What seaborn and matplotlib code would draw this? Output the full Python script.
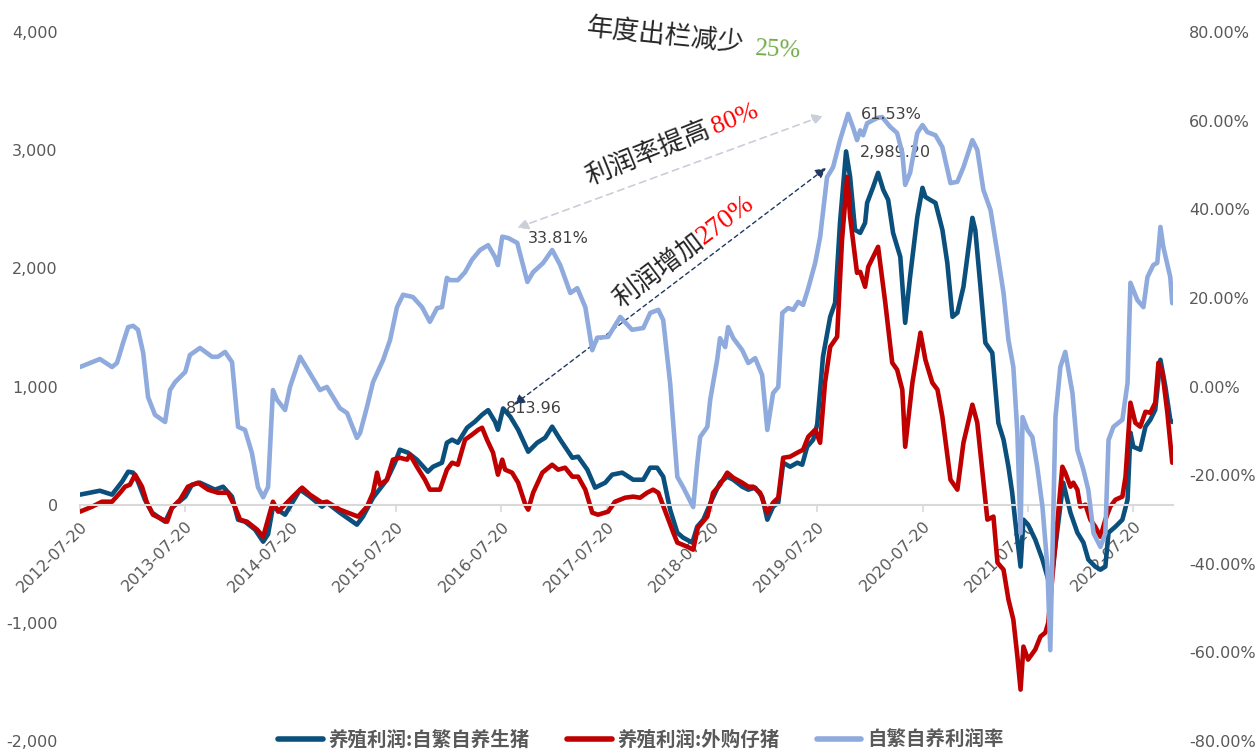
import matplotlib
matplotlib.use("Agg")
import pandas as pd
import matplotlib.pyplot as plt
from matplotlib.ticker import FuncFormatter
from matplotlib.lines import Line2D
from matplotlib.font_manager import FontProperties
import seaborn as sns

sns.set_theme(style="white")
plt.rcParams['font.family'] = ['DejaVu Sans', 'Noto Sans CJK SC']

# ---- data ----
# 养殖利润:自繁自养生猪 (元/头, left axis)
own_dates = [
    "2012-07-20", "2012-09-27", "2012-11-08", "2012-12-13", "2013-01-03", "2013-01-20", "2013-02-06",
    "2013-03-02", "2013-03-27", "2013-05-11", "2013-06-04", "2013-07-20", "2013-08-12", "2013-09-09",
    "2013-10-31", "2013-11-28", "2013-12-29", "2014-01-19", "2014-02-12", "2014-03-19", "2014-04-16",
    "2014-05-03", "2014-05-20", "2014-07-01", "2014-08-22", "2014-09-25", "2014-11-06", "2014-11-23",
    "2015-01-07", "2015-03-07", "2015-03-28", "2015-05-02", "2015-06-19", "2015-07-17", "2015-08-03",
    "2015-08-31", "2015-10-01", "2015-11-08", "2015-11-26", "2015-12-27", "2016-01-13", "2016-01-31",
    "2016-02-20", "2016-03-23", "2016-04-19", "2016-05-14", "2016-06-04", "2016-06-28", "2016-07-08",
    "2016-07-26", "2016-08-20", "2016-09-16", "2016-10-21", "2016-11-21", "2016-12-19", "2017-01-12",
    "2017-02-09", "2017-03-23", "2017-04-12", "2017-05-14", "2017-06-10", "2017-07-15", "2017-08-08",
    "2017-09-12", "2017-10-20", "2017-11-24", "2017-12-18", "2018-01-11", "2018-02-01", "2018-02-25",
    "2018-03-22", "2018-04-11", "2018-05-13", "2018-05-30", "2018-06-20", "2018-07-20", "2018-08-17",
    "2018-09-11", "2018-10-02", "2018-11-02", "2018-11-23", "2018-12-17", "2019-01-10", "2019-01-28",
    "2019-02-17", "2019-03-07", "2019-03-24", "2019-04-17", "2019-05-12", "2019-05-29", "2019-06-15",
    "2019-07-06", "2019-07-20", "2019-08-09", "2019-09-03", "2019-09-20", "2019-10-07", "2019-10-28",
    "2019-11-11", "2019-11-28", "2019-12-16", "2020-01-02", "2020-01-09", "2020-01-30", "2020-02-16",
    "2020-03-05", "2020-03-22", "2020-04-08", "2020-05-03", "2020-05-20", "2020-06-06", "2020-07-01",
    "2020-07-19", "2020-07-29", "2020-08-15", "2020-09-02", "2020-09-26", "2020-10-13", "2020-10-31",
    "2020-11-17", "2020-12-08", "2021-01-08", "2021-01-18", "2021-02-05", "2021-02-22", "2021-03-18",
    "2021-04-08", "2021-04-26", "2021-05-13", "2021-05-26", "2021-06-05", "2021-06-24", "2021-07-04",
    "2021-07-20", "2021-08-14", "2021-09-08", "2021-09-25", "2021-10-05", "2021-11-19", "2021-12-14",
    "2022-01-07", "2022-01-28", "2022-02-14", "2022-03-10", "2022-03-28", "2022-04-14", "2022-04-25",
    "2022-05-19", "2022-06-12", "2022-06-30", "2022-07-10", "2022-07-20", "2022-08-13", "2022-08-31",
    "2022-09-17", "2022-10-04", "2022-10-22", "2022-11-08", "2022-11-25", "2022-12-02",
]
own_profit = [
    85, 118, 85, 195, 279, 271, 195,
    42, -68, -144, -25, 68, 169, 186,
    127, 152, 68, -127, -144, -211, -313,
    -250, -17, -85, 127, 68, -17, 17,
    -68, -169, -101, 59, 211, 355, 465,
    440, 381, 279, 321, 355, 524, 550,
    524, 651, 702, 761, 800, 702, 634,
    813.96, 744, 634, 448, 524, 567, 660,
    550, 397, 406, 296, 144, 186, 254,
    271, 211, 211, 313, 313, 237, -42,
    -237, -279, -321, -186, -127, 42, 186,
    237, 211, 152, 127, 144, 68, -127,
    -17, 17, 355, 321, 355, 338, 490,
    550, 680, 1252, 1590, 1708, 2385, 2989.2,
    2774, 2326, 2300, 2385, 2554, 2689, 2808,
    2664, 2579, 2300, 2097, 1539, 1928, 2436,
    2681, 2605, 2579, 2554, 2326, 2047, 1590,
    1624, 1844, 2427, 2326, 1844, 1370, 1285,
    693, 550, 321, 101, -127, -524, -127,
    -169, -296, -465, -609, -700, 186, -68,
    -237, -321, -465, -524, -550, -524, -237,
    -186, -127, 42, 609, 490, 465, 660,
    719, 803, 1226, 998, 719, 700,
]

# 养殖利润:外购仔猪 (元/头, left axis)
buy_dates = [
    "2012-07-20", "2012-08-31", "2012-10-04", "2012-11-08", "2012-12-06", "2012-12-23", "2013-01-09",
    "2013-01-27", "2013-02-20", "2013-03-09", "2013-03-30", "2013-05-18", "2013-06-04", "2013-07-02",
    "2013-07-29", "2013-09-02", "2013-10-07", "2013-11-10", "2013-12-15", "2014-01-08", "2014-01-26",
    "2014-02-19", "2014-03-26", "2014-04-16", "2014-05-20", "2014-06-07", "2014-07-28", "2014-08-29",
    "2014-09-25", "2014-11-06", "2014-11-23", "2015-01-07", "2015-03-11", "2015-04-11", "2015-05-02",
    "2015-05-16", "2015-05-26", "2015-06-19", "2015-07-10", "2015-08-03", "2015-08-28", "2015-09-07",
    "2015-10-01", "2015-10-29", "2015-11-15", "2015-12-20", "2016-01-13", "2016-01-31", "2016-02-20",
    "2016-03-16", "2016-04-09", "2016-05-01", "2016-05-14", "2016-05-31", "2016-06-21", "2016-07-08",
    "2016-07-23", "2016-08-02", "2016-08-26", "2016-09-16", "2016-10-11", "2016-10-21", "2016-11-07",
    "2016-12-09", "2017-01-12", "2017-02-02", "2017-02-26", "2017-03-23", "2017-04-12", "2017-05-07",
    "2017-05-31", "2017-06-20", "2017-07-25", "2017-08-18", "2017-09-22", "2017-10-20", "2017-11-13",
    "2017-12-07", "2017-12-28", "2018-01-15", "2018-02-15", "2018-03-08", "2018-03-22", "2018-04-25",
    "2018-05-16", "2018-06-01", "2018-07-04", "2018-07-24", "2018-08-17", "2018-09-11", "2018-10-02",
    "2018-11-02", "2018-11-23", "2018-12-10", "2019-01-03", "2019-01-28", "2019-02-17", "2019-03-07",
    "2019-03-24", "2019-04-17", "2019-05-12", "2019-06-01", "2019-06-19", "2019-07-13", "2019-07-30",
    "2019-08-16", "2019-09-03", "2019-09-27", "2019-10-14", "2019-11-01", "2019-11-11", "2019-12-05",
    "2019-12-16", "2020-01-02", "2020-01-13", "2020-02-16", "2020-03-12", "2020-04-05", "2020-04-22",
    "2020-05-10", "2020-05-20", "2020-06-14", "2020-07-12", "2020-07-29", "2020-08-22", "2020-09-09",
    "2020-09-26", "2020-10-24", "2020-11-17", "2020-12-08", "2021-01-08", "2021-01-25", "2021-02-12",
    "2021-03-01", "2021-03-22", "2021-04-05", "2021-04-26", "2021-05-13", "2021-05-30", "2021-06-13",
    "2021-06-24", "2021-07-04", "2021-07-20", "2021-08-14", "2021-09-01", "2021-09-18", "2021-09-28",
    "2021-11-16", "2021-11-26", "2021-12-14", "2021-12-24", "2022-01-07", "2022-01-17", "2022-02-04",
    "2022-02-21", "2022-03-10", "2022-03-28", "2022-04-14", "2022-05-01", "2022-05-19", "2022-06-12",
    "2022-06-23", "2022-07-10", "2022-07-27", "2022-08-13", "2022-08-31", "2022-09-17", "2022-10-04",
    "2022-10-15", "2022-10-29", "2022-11-15", "2022-12-02",
]
buy_profit = [
    -59, -17, 25, 25, 101, 152, 169,
    254, 152, 17, -85, -144, -25, 42,
    152, 186, 127, 101, 101, -17, -127,
    -144, -211, -271, 25, -59, 68, 144,
    85, 17, 25, -42, -101, -17, 101,
    271, 169, 211, 381, 397, 381, 423,
    321, 211, 127, 127, 296, 355, 338,
    550, 592, 634, 651, 550, 440, 254,
    381, 296, 271, 186, 0, -42, 101,
    271, 338, 296, 313, 237, 237, 127,
    -68, -85, -59, 25, 59, 68, 59,
    101, 127, 101, -101, -237, -321, -355,
    -381, -195, -101, 101, 169, 271, 228,
    186, 152, 152, 101, -68, 17, 59,
    397, 406, 440, 465, 575, 634, 524,
    1032, 1336, 1421, 2241, 2774, 2436, 1962,
    1970, 1844, 2013, 2182, 1708, 1201, 1142,
    973, 490, 1032, 1455, 1226, 1032, 973,
    744, 211, 127, 524, 846, 693, 271,
    -127, -101, -491, -550, -803, -973, -1285,
    -1565, -1201, -1311, -1226, -1116, -1082, -1000,
    321, 271, 152, 186, 127, -17, 0,
    -127, -186, -271, -127, -17, 42, 68,
    237, 863, 693, 660, 786, 778, 863,
    1201, 1116, 778, 355,
]

# 自繁自养利润率 (%, right axis)
rate_dates = [
    "2012-07-20", "2012-09-27", "2012-11-08", "2012-11-25", "2012-12-06", "2012-12-16", "2013-01-03",
    "2013-01-20", "2013-02-06", "2013-02-24", "2013-03-13", "2013-04-06", "2013-05-11", "2013-05-28",
    "2013-06-15", "2013-07-20", "2013-08-05", "2013-09-09", "2013-10-21", "2013-11-10", "2013-12-05",
    "2013-12-29", "2014-01-19", "2014-02-12", "2014-03-08", "2014-03-29", "2014-04-16", "2014-04-23",
    "2014-05-03", "2014-05-20", "2014-06-03", "2014-07-01", "2014-07-18", "2014-08-22", "2014-09-25",
    "2014-10-30", "2014-11-23", "2015-01-07", "2015-02-01", "2015-03-07", "2015-03-18", "2015-04-11",
    "2015-05-02", "2015-06-06", "2015-06-30", "2015-07-24", "2015-08-14", "2015-09-17", "2015-10-19",
    "2015-11-15", "2015-12-10", "2015-12-27", "2016-01-13", "2016-01-24", "2016-02-20", "2016-03-16",
    "2016-04-09", "2016-05-07", "2016-06-04", "2016-06-28", "2016-07-08", "2016-07-23", "2016-08-13",
    "2016-09-13", "2016-10-18", "2016-11-07", "2016-12-12", "2017-01-12", "2017-02-09", "2017-03-16",
    "2017-04-09", "2017-05-07", "2017-05-31", "2017-06-17", "2017-07-25", "2017-09-05", "2017-10-16",
    "2017-11-24", "2017-12-18", "2018-01-15", "2018-02-01", "2018-02-25", "2018-03-22", "2018-04-11",
    "2018-05-16", "2018-05-30", "2018-06-09", "2018-07-04", "2018-07-14", "2018-08-07", "2018-08-17",
    "2018-09-04", "2018-09-14", "2018-10-02", "2018-11-02", "2018-11-23", "2018-12-17", "2019-01-10",
    "2019-01-28", "2019-02-17", "2019-03-07", "2019-03-21", "2019-04-10", "2019-04-28", "2019-05-15",
    "2019-06-01", "2019-06-19", "2019-07-13", "2019-07-30", "2019-08-23", "2019-09-13", "2019-10-07",
    "2019-11-04", "2019-11-22", "2019-12-05", "2019-12-16", "2019-12-26", "2020-01-09", "2020-02-13",
    "2020-03-01", "2020-03-29", "2020-04-22", "2020-05-10", "2020-05-20", "2020-06-06", "2020-07-01",
    "2020-07-19", "2020-08-05", "2020-09-02", "2020-09-26", "2020-10-24", "2020-11-17", "2020-12-08",
    "2021-01-08", "2021-01-25", "2021-02-15", "2021-03-12", "2021-04-05", "2021-04-26", "2021-05-13",
    "2021-05-30", "2021-06-13", "2021-06-24", "2021-07-01", "2021-07-18", "2021-08-04", "2021-08-21",
    "2021-09-08", "2021-09-25", "2021-10-05", "2021-10-23", "2021-11-09", "2021-11-26", "2021-12-21",
    "2022-01-07", "2022-01-28", "2022-02-14", "2022-03-04", "2022-03-28", "2022-04-14", "2022-04-25",
    "2022-05-12", "2022-06-12", "2022-06-30", "2022-07-10", "2022-08-03", "2022-08-24", "2022-09-07",
    "2022-09-27", "2022-10-11", "2022-10-22", "2022-11-01", "2022-11-25", "2022-12-02",
]
rate_pct = [
    4.4, 6.2, 4.4, 5.3, 7.6, 9.8, 13.4,
    13.7, 12.8, 7.6, -2.4, -6.4, -8.0, -0.8,
    1.0, 3.3, 7.1, 8.7, 6.7, 6.7, 7.8,
    5.5, -9.1, -9.8, -15.0, -22.7, -25.0, -24.0,
    -22.7, -0.8, -3.0, -5.3, -0.1, 6.7, 3.0,
    -0.8, -0.1, -4.9, -6.0, -11.6, -10.5, -4.6,
    1.0, 6.0, 10.5, 17.9, 20.7, 20.2, 17.9,
    14.6, 17.7, 17.9, 24.5, 24.0, 24.0, 25.8,
    28.6, 30.8, 31.9, 29.2, 27.4, 33.81, 33.5,
    32.4, 23.6, 25.8, 27.9, 30.8, 27.4, 21.1,
    22.2, 17.9, 8.2, 11.0, 11.2, 15.7, 12.8,
    13.2, 16.6, 17.3, 15.0, 0.8, -20.4, -22.7,
    -27.2, -17.3, -11.4, -9.1, -3.0, 6.0, 10.9,
    8.9, 13.4, 10.9, 8.2, 5.3, 6.4, 2.6,
    -9.8, -1.5, -0.1, 16.6, 17.7, 17.3, 19.1,
    18.4, 22.2, 27.9, 33.7, 47.2, 49.5, 55.6,
    61.53, 58.3, 55.6, 57.8, 56.7, 59.4, 60.6,
    60.8, 58.6, 57.2, 52.7, 45.5, 48.2, 57.2,
    59.0, 57.4, 56.7, 54.0, 45.9, 46.2, 49.5,
    55.6, 53.4, 44.4, 39.8, 30.0, 21.1, 10.5,
    4.4, -10.5, -33.1, -6.9, -9.8, -11.4, -18.2,
    -27.2, -40.7, -59.5, -6.9, 4.4, 7.8, -1.5,
    -14.3, -18.8, -23.4, -33.1, -36.2, -33.1, -12.1,
    -9.1, -7.5, 0.8, 23.4, 19.5, 17.9, 24.7,
    27.4, 27.9, 36.0, 31.5, 24.7, 18.8,
]

series_names = ["养殖利润:自繁自养生猪", "养殖利润:外购仔猪", "自繁自养利润率"]
series_colors = ["#0B4F7C", "#C00000", "#8FAADC"]
tick_dates = ["2012-07-20", "2013-07-20", "2014-07-20", "2015-07-20", "2016-07-20", "2017-07-20",
              "2018-07-20", "2019-07-20", "2020-07-20", "2021-07-20", "2022-07-20"]

grey = "#595959"
cjk = "Noto Sans CJK SC"

fig = plt.figure(figsize=(12.6, 7.51), dpi=100)
ax = fig.add_axes([0.0635, 0.0133, 0.8671, 0.9441])
ax2 = ax.twinx()

sns.lineplot(x=pd.to_datetime(own_dates), y=own_profit, ax=ax, color=series_colors[0], linewidth=3.3, legend=False)
sns.lineplot(x=pd.to_datetime(buy_dates), y=buy_profit, ax=ax, color=series_colors[1], linewidth=3.3, legend=False)
sns.lineplot(x=pd.to_datetime(rate_dates), y=rate_pct, ax=ax2, color=series_colors[2], linewidth=3.3, legend=False)

ax.set_xlim(pd.Timestamp("2012-07-20"), pd.Timestamp("2022-12-03"))
ax.set_ylim(-2000, 4000)
ax2.set_ylim(-80, 80)
ax.set_yticks(range(-2000, 4001, 1000))
ax2.set_yticks(range(-80, 81, 20))
ax.yaxis.set_major_formatter(FuncFormatter(lambda v, p: f"{v:,.0f}"))
ax2.yaxis.set_major_formatter(FuncFormatter(lambda v, p: f"{v:.2f}%"))
ax.set_xticks(pd.to_datetime(tick_dates))
ax.set_xticklabels(tick_dates)
ax.set_xlabel("")
ax.set_ylabel("")
ax2.set_ylabel("")

for s in ["top", "left", "right"]:
    ax.spines[s].set_visible(False)
for s in ["top", "left", "right", "bottom"]:
    ax2.spines[s].set_visible(False)
ax.spines["bottom"].set_position(("data", 0))
ax.spines["bottom"].set_color("#D9D9D9")
ax.spines["bottom"].set_linewidth(1.5)
ax.grid(False)
ax2.grid(False)

ax.tick_params(axis="x", bottom=True, length=5, width=1.2, color="#D9D9D9",
               labelsize=11.5, labelcolor=grey, pad=5, labelrotation=45)
ax.tick_params(axis="y", length=0, labelsize=11.5, labelcolor=grey, pad=16)
ax2.tick_params(axis="y", length=0, labelsize=11.5, labelcolor=grey, pad=12)

# value labels
lab_kw = dict(fontsize=11.5, color="#404040", ha="left", va="center")
ax2.text(pd.Timestamp("2016-10-18"), 33.5, "33.81%", **lab_kw)
ax2.text(pd.Timestamp("2019-12-18"), 61.3, "61.53%", **lab_kw)
ax.text(pd.Timestamp("2019-12-16"), 2977, "2,989.20", **lab_kw)
ax.text(pd.Timestamp("2016-08-03"), 812, "813.96", **lab_kw)

# dashed double arrows
ax2.annotate("", xy=(pd.Timestamp("2019-08-10"), 61.1), xytext=(pd.Timestamp("2016-09-13"), 35.8),
             arrowprops=dict(arrowstyle="<|-|>", linestyle=(0, (4, 3)), color="#C9CED9",
                             lw=1.2, mutation_scale=16, shrinkA=0, shrinkB=0))
ax.annotate("", xy=(pd.Timestamp("2019-08-20"), 2850), xytext=(pd.Timestamp("2016-09-02"), 846),
            arrowprops=dict(arrowstyle="<|-|>", linestyle=(0, (3, 2.5)), color="#1F3864",
                            lw=1.0, mutation_scale=16, shrinkA=0, shrinkB=0))


# free text annotations (figure pixel positions)
def fx(px):
    return px / 1260


def fy(py):
    return 1 - py / 751


fig.text(fx(665), fy(36), "年度出栏减少", family=cjk, fontsize=19, color="#262626",
         rotation=-6, ha="center", va="center")
fig.text(fx(778), fy(50), "25%", family="Liberation Serif", fontsize=18, color="#70AD47",
         rotation=-3, ha="center", va="center")
fig.text(fx(648), fy(153), "利润率提高", family=cjk, fontsize=19, color="#262626",
         rotation=22, ha="center", va="center", rotation_mode="anchor")
fig.text(fx(735), fy(119), "80%", family="Liberation Serif", fontsize=19, color="#FF0000",
         rotation=22, ha="center", va="center", rotation_mode="anchor")
fig.text(fx(658), fy(270), "利润增加", family=cjk, fontsize=19, color="#262626",
         rotation=37, ha="center", va="center", rotation_mode="anchor")
fig.text(fx(726), fy(220), "270%", family="Liberation Serif", fontsize=20, color="#FF0000",
         rotation=37, ha="center", va="center", rotation_mode="anchor")

handles = [Line2D([], [], color=c, linewidth=4) for c in series_colors]
fig.legend(handles, series_names, loc="center", bbox_to_anchor=(fx(641), fy(740)), ncol=3,
           frameon=False, prop=FontProperties(family=cjk, size=14, weight="bold"),
           labelcolor=grey, handlelength=2.3, columnspacing=1.9, handletextpad=0.3)

plt.setp(ax.get_xticklabels(), ha="right", rotation_mode="anchor")

fig.savefig("out.png", dpi=100)
